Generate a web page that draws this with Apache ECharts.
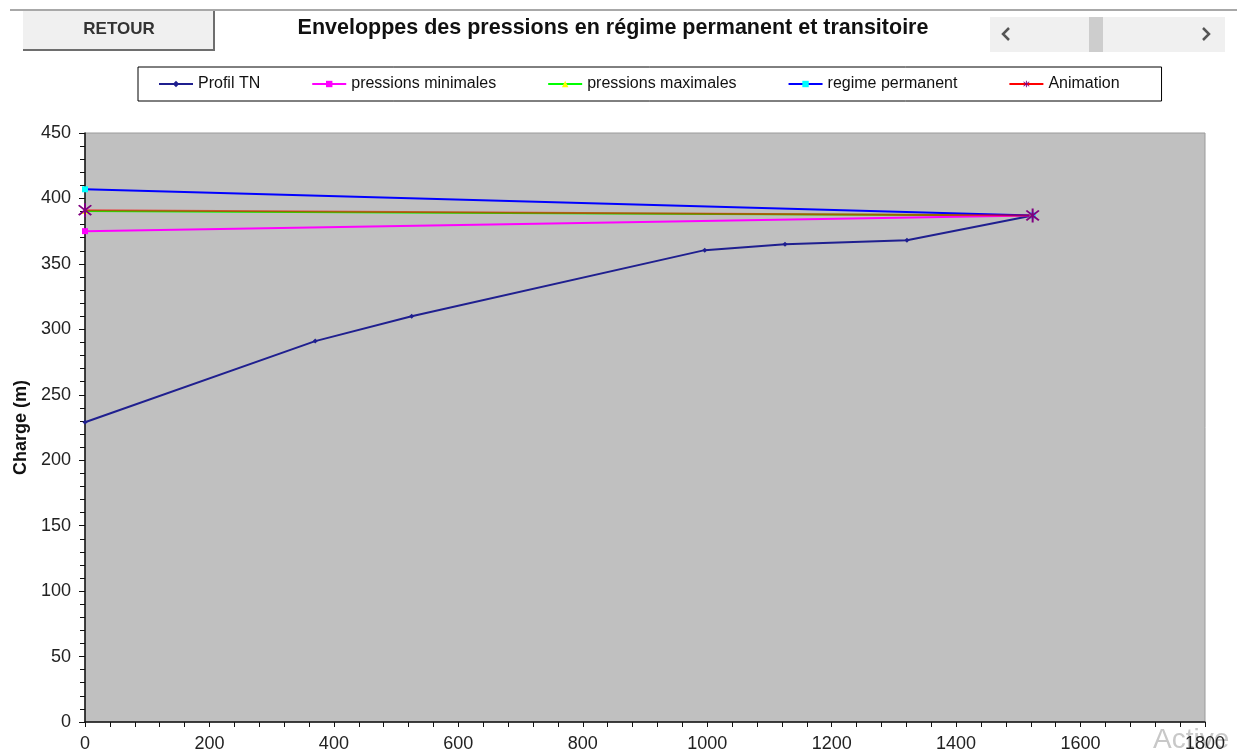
<!DOCTYPE html>
<html>
<head>
<meta charset="utf-8">
<script src="https://cdn.jsdelivr.net/npm/echarts@6/dist/echarts.min.js"></script>
<style>
  html, body { margin: 0; padding: 0; background: #fff; }
  #chart { width: 1247px; height: 754px; }
</style>
</head>
<body>
<div id="chart"></div>
<script>
// Distances along the pipe (m) and hydraulic heads (m)
const profilX = [0, 370, 525, 996, 1125, 1321, 1523];
const profilY = [229, 291, 310, 360.5, 365, 368, 387];
const minX = [0, 1523];
const minY = [375, 387];
const maxX = [0, 1523];
const maxY = [390.5, 387];
const permX = [0, 1523];
const permY = [407, 387];
const animX = [0, 1523];
const animY = [391, 387];

const titleText = 'Enveloppes des pressions en régime permanent et transitoire';
const legendNames = ['Profil TN', 'pressions minimales', 'pressions maximales', 'regime permanent', 'Animation'];

const pairs = (xs, ys) => xs.map((x, i) => [x, ys[i]]);

// asterisk marker built from three thin bars
const star = 'path://M-0.9,-8L0.9,-8L0.9,8L-0.9,8Z' +
  'M-6.3,-5L-5,-6.3L6.3,5L5,6.3Z' +
  'M5,-6.3L6.3,-5L-5,6.3L-6.3,5Z';

const font = '"Liberation Sans", Arial, sans-serif';
const chart = echarts.init(document.getElementById('chart'));

chart.setOption({
  animation: false,
  backgroundColor: '#ffffff',
  title: {
    text: titleText,
    left: 608, top: 12, textAlign: 'center',
    textStyle: { fontFamily: font, fontSize: 21.5, fontWeight: 'bold', color: '#111' }
  },
  legend: {
    data: legendNames.map(n => n === 'Animation'
      ? { name: n, lineStyle: { opacity: 1 } }
      : { name: n }),
    left: 138, top: 67, width: 1023, height: 34,
    padding: [9, 42, 9, 20],
    itemGap: 51, itemWidth: 34, itemHeight: 8,
    borderColor: '#000', borderWidth: 1,
    textStyle: { fontFamily: font, fontSize: 16, color: '#111' }
  },
  grid: { left: 85, right: 42, top: 133, bottom: 32, show: true, backgroundColor: '#c0c0c0', borderColor: '#9a9a9a', borderWidth: 1 },
  xAxis: {
    type: 'value', min: 0, max: 1800, interval: 200,
    axisLine: { show: true, onZero: false, lineStyle: { color: '#111', width: 1.5 } },
    axisTick: { show: true, length: 5, lineStyle: { color: '#111' } },
    minorTick: { show: true, splitNumber: 5, length: 5, lineStyle: { color: '#111' } },
    splitLine: { show: false },
    axisLabel: { fontFamily: font, fontSize: 18, color: '#222', margin: 13, formatter: v => String(v) }
  },
  yAxis: {
    type: 'value', min: 0, max: 450, interval: 50,
    name: 'Charge (m)', nameLocation: 'middle', nameGap: 54, nameRotate: 90,
    nameTextStyle: { fontFamily: font, fontSize: 18, fontWeight: 'bold', color: '#111' },
    axisLine: { show: true, onZero: false, lineStyle: { color: '#111', width: 1.5 } },
    axisTick: { show: true, length: 6, lineStyle: { color: '#111' } },
    minorTick: { show: true, splitNumber: 5, length: 5, lineStyle: { color: '#111' } },
    splitLine: { show: false },
    axisLabel: { fontFamily: font, fontSize: 18, color: '#222', margin: 14 }
  },
  graphic: [
    { type: 'line', shape: { x1: 10, y1: 10, x2: 1237, y2: 10 }, style: { stroke: '#a8a8a8', lineWidth: 2 } },
    { type: 'rect', shape: { x: 23, y: 11, width: 192, height: 40 }, style: { fill: '#f0f0f0', stroke: null } },
    { type: 'line', shape: { x1: 23, y1: 50, x2: 215, y2: 50 }, style: { stroke: '#6e6e6e', lineWidth: 2 } },
    { type: 'line', shape: { x1: 214, y1: 11, x2: 214, y2: 51 }, style: { stroke: '#6e6e6e', lineWidth: 2 } },
    { type: 'text', x: 119, y: 29, style: { text: 'RETOUR', fontFamily: font, fontSize: 17, fontWeight: 'bold', fill: '#333', align: 'center', verticalAlign: 'middle' } },
    { type: 'rect', shape: { x: 990, y: 17, width: 235, height: 35 }, style: { fill: '#f0f0f0' } },
    { type: 'rect', shape: { x: 1089, y: 17, width: 14, height: 35 }, style: { fill: '#cdcdcd' } },
    { type: 'polyline', shape: { points: [[1009, 28], [1003, 34], [1009, 40]] }, style: { stroke: '#555', lineWidth: 2.5, fill: null } },
    { type: 'polyline', shape: { points: [[1203, 28], [1209, 34], [1203, 40]] }, style: { stroke: '#555', lineWidth: 2.5, fill: null } },
    { type: 'text', x: 1153, y: 740, z: -1, style: { text: 'Active', fontFamily: font, fontSize: 28, fill: '#c8c8c8', verticalAlign: 'middle' } }
  ],
  series: [
    {
      name: 'Profil TN', type: 'line', data: pairs(profilX, profilY),
      color: '#1f1f8f', symbol: 'diamond', symbolSize: 5, showSymbol: true,
      lineStyle: { color: '#1f1f8f', width: 2 }, itemStyle: { color: '#1f1f8f' }, z: 3
    },
    {
      name: 'pressions minimales', type: 'line', data: pairs(minX, minY),
      color: '#ff00ff', symbol: 'rect', symbolSize: 6,
      lineStyle: { color: '#ff00ff', width: 2 }, itemStyle: { color: '#ff00ff' }, z: 3
    },
    {
      name: 'pressions maximales', type: 'line', data: pairs(maxX, maxY),
      color: '#00ff00', symbol: 'triangle', symbolSize: 6,
      lineStyle: { color: '#00ff00', width: 2 }, itemStyle: { color: '#ffff00' }, z: 2
    },
    {
      name: 'regime permanent', type: 'line', data: pairs(permX, permY),
      color: '#0000ff', symbol: 'rect', symbolSize: 6,
      lineStyle: { color: '#0000ff', width: 2 }, itemStyle: { color: '#00ffff' }, z: 3
    },
    {
      name: 'Animation', type: 'line', data: pairs(animX, animY),
      color: '#ff0000', symbol: star, symbolSize: 14,
      lineStyle: { color: '#ff0000', width: 2, opacity: 0.6 }, itemStyle: { color: '#800080' }, z: 4
    }
  ]
});
</script>
</body>
</html>
